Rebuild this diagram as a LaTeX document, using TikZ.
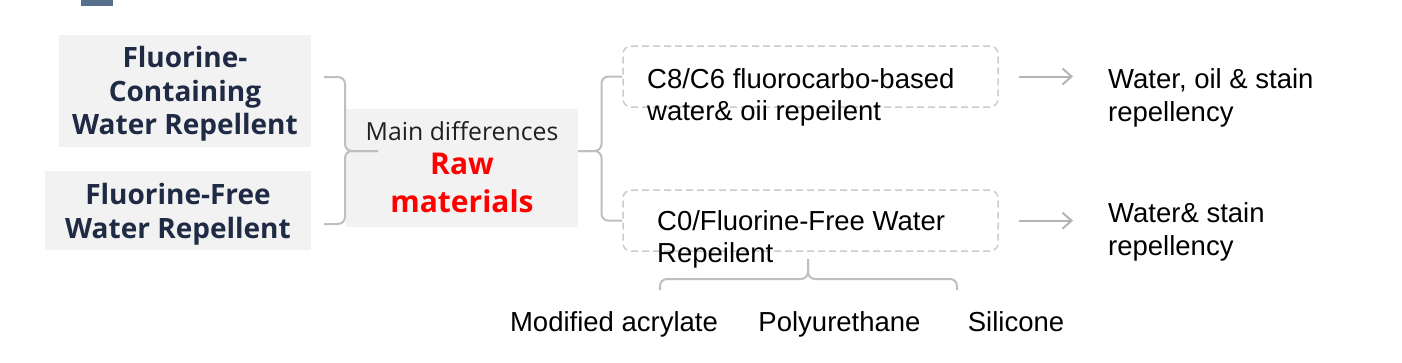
\documentclass[tikz,border=0pt]{standalone}
\usepackage{fontspec}
\setmainfont{Liberation Sans}
\newfontfamily\osans{Open Sans}
\usetikzlibrary{arrows.meta}
\definecolor{boxgray}{HTML}{F2F2F2}
\definecolor{navy}{HTML}{1F2A44}
\definecolor{darktext}{HTML}{202020}
\definecolor{linegray}{HTML}{BFBFBF}
\definecolor{dashgray}{HTML}{CCCCCC}
\definecolor{arrgray}{HTML}{B4B4B4}
\definecolor{tabblue}{HTML}{56708D}
\definecolor{rawred}{HTML}{FF0000}
\begin{document}
\begin{tikzpicture}[x=1pt,y=-1pt,
  greybox/.style={fill=boxgray, draw=none, inner sep=0pt, align=center, text=navy,
    font=\osans\bfseries\fontsize{28}{33.5}\selectfont},
  dashbox/.style={draw=dashgray, line width=1.5pt, dash pattern=on 7pt off 4pt,
    rounded corners=8pt, minimum width=375pt, minimum height=61pt, inner sep=0pt},
  bodytext/.style={inner sep=0pt, align=left, font=\fontsize{27.5}{32.5}\selectfont},
  brace/.style={draw=linegray, line width=2pt, rounded corners=7pt},
  arrowline/.style={draw=arrgray, line width=2pt, -{Straight Barb[length=9pt,width=16pt]}},
]
\useasboundingbox (0,0) rectangle (1402,362);
\fill[white] (0,0) rectangle (1402,362);
\fill[tabblue] (81,0) rectangle (113,5.5);

% left boxes
\node[greybox, minimum width=252pt, minimum height=112pt] (fc) at (185,91)
  {\rule{0pt}{27pt}Fluorine-\\Containing\\Water Repellent};
\node[greybox, minimum width=266pt, minimum height=79pt] (ff) at (178,210.5)
  {\rule{0pt}{29pt}Fluorine-Free\\Water Repellent};

% middle box
\node[greybox, minimum width=232pt, minimum height=118pt, text=rawred,
  font=\osans\bfseries\fontsize{30}{38.5}\selectfont] (md) at (462,168)
  {{\color{darktext}\mdseries\fontsize{24.8}{30}\selectfont Main differences}\\[-5pt]Raw\\materials\rule[-1pt]{0pt}{1pt}};

% dashed boxes
\node[dashbox] (d1) at (810.5,76.5) {};
\node[dashbox] (d2) at (810.5,220.7) {};
\node[bodytext, anchor=base west] (t1) at (647,120.8) {C8/C6 fluorocarbo-based\\water\& oii repeilent};
\node[bodytext, anchor=base west] (t2) at (657,262.8) {C0/Fluorine-Free Water\\Repeilent};

% right texts
\node[bodytext, anchor=base west] (r1) at (1108,121) {Water, oil \& stain\\repellency};
\node[bodytext, anchor=base west] (r2) at (1108,255.3) {Water\& stain\\repellency};

% bottom labels
\node[bodytext, anchor=base] (b1) at (614,331) {Modified acrylate};
\node[bodytext, anchor=base] (b2) at (839.5,331) {Polyurethane};
\node[bodytext, anchor=base] (b3) at (1016,331) {Silicone};

% left brace
\coordinate (lt) at (378,151);
\coordinate (lbT) at (324,77);
\coordinate (lbB) at (324,224);
\draw[brace] (lt) -- ++(-33,0) |- (lbT);
\draw[brace] (lt) -- ++(-33,0) |- (lbB);

% right brace
\coordinate (rt) at (578,151);
\draw[brace] (rt) -- ++(23.5,0) |- (d1.west);
\draw[brace] (rt) -- ++(23.5,0) |- (d2.west);

% bottom brace
\coordinate (bs) at (808,259);
\coordinate (bl) at (660,290);
\coordinate (br) at (957,290);
\draw[brace] (bs) -- ++(0,20) -| (bl);
\draw[brace] (bs) -- ++(0,20) -| (br);

% arrows
\draw[arrowline, shorten <=20pt, shorten >=35pt] (d1.east) -- (d1.east -| r1.west);
\draw[arrowline, shorten <=20pt, shorten >=35pt] (d2.east) -- (d2.east -| r2.west);
\end{tikzpicture}
\end{document}
